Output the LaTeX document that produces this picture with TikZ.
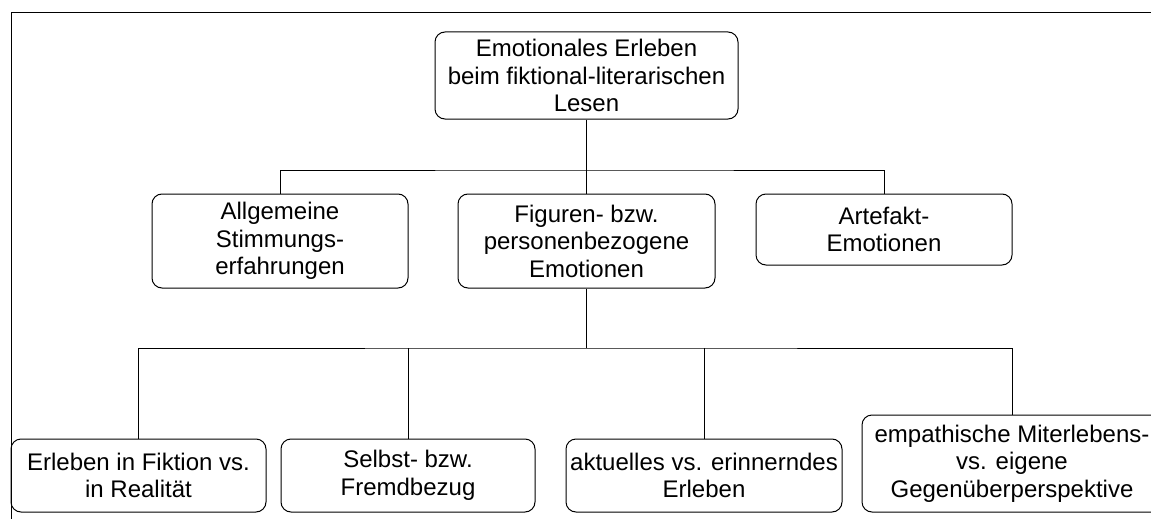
\documentclass[tikz,border=0pt]{standalone}
\usepackage{fontspec}
\setmainfont{Liberation Sans}
\begin{document}
\begin{tikzpicture}[x=1pt,y=-1pt,
  box/.style={draw=black, line width=1pt, rounded corners=10pt, inner sep=0pt,
    align=center, font=\fontsize{24}{27.5}\selectfont},
  conn/.style={draw=black, line width=1pt}]
\useasboundingbox (0,0) rectangle (1151,519);
\draw[conn] (11,519) -- (11,13) -- (1151,13);
\node[box, minimum width=303pt, minimum height=87pt] (top) at (586.5,75.5)
  {Emotionales Erleben\\beim fiktional-literarischen\\Lesen};
\node[box, minimum width=256pt, minimum height=94pt] (allg) at (280,241)
  {Allgemeine\\Stimmungs-\\erfahrungen};
\node[box, minimum width=257pt, minimum height=94pt] (fig) at (586.5,241)
  {Figuren- bzw.\\personenbezogene\\Emotionen};
\node[box, minimum width=256pt, minimum height=71pt] (art) at (884,229.5)
  {Artefakt-\\Emotionen};
\node[box, minimum width=255pt, minimum height=73pt] (b1) at (138.5,475.5)
  {Erleben in Fiktion vs.\\in Realität};
\node[box, minimum width=254pt, minimum height=73pt] (b2) at (408,475.5)
  {Selbst- bzw.\\Fremdbezug};
\node[box, minimum width=276pt, minimum height=73pt] (b3) at (704,475.5)
  {aktuelles vs. erinnerndes\\Erleben};
\node[box, minimum width=300pt, minimum height=97pt] (b4) at (1012,463.5)
  {empathische Miterlebens-\\vs. eigene\\Gegenüberperspektive};
\coordinate (j1) at (586.5,170);
\coordinate (j2) at (586.5,348);
\draw[conn] (top.south) -- (j1);
\draw[conn] (j1) -- (fig.north);
\draw[conn] (allg.north) |- (j1) -| (art.north);
\draw[conn] (fig.south) -- (j2);
\draw[conn] (b1.north) |- (j2) -| (b4.north);
\draw[conn] (b2.north) -- (b2.north |- j2);
\draw[conn] (b3.north) -- (b3.north |- j2);
\end{tikzpicture}
\end{document}
